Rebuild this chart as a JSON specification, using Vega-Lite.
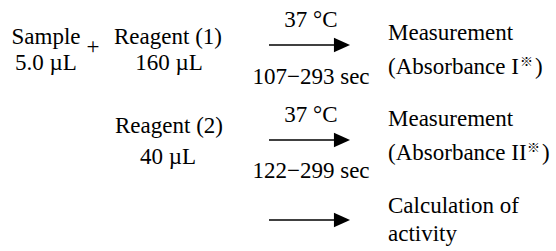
{
  "$schema": "https://vega.github.io/schema/vega-lite/v6.json",
  "width": 556,
  "height": 251,
  "autosize": {"type": "fit", "contains": "padding"},
  "padding": 0,
  "background": "white",
  "config": {"view": {"stroke": null}},
  "datasets": {
    "centered": [
      {"label": "Sample", "x": 46, "y": 44},
      {"label": "5.0 µL", "x": 46, "y": 70},
      {"label": "+", "x": 93, "y": 54},
      {"label": "Reagent (1)", "x": 168, "y": 44},
      {"label": "160 µL", "x": 169, "y": 70},
      {"label": "37 °C", "x": 311, "y": 27},
      {"label": "107−293 sec", "x": 311, "y": 84},
      {"label": "Reagent (2)", "x": 169, "y": 133},
      {"label": "40 µL", "x": 168, "y": 164},
      {"label": "37 °C", "x": 311, "y": 122},
      {"label": "122−299 sec", "x": 311, "y": 178}
    ],
    "lefttext": [
      {"label": "Measurement", "x": 388, "y": 40},
      {"label": "(Absorbance I", "x": 388, "y": 74},
      {"label": ")", "x": 535, "y": 74},
      {"label": "Measurement", "x": 388, "y": 126},
      {"label": "(Absorbance II", "x": 388, "y": 160},
      {"label": ")", "x": 542, "y": 160},
      {"label": "Calculation of", "x": 388, "y": 213},
      {"label": "activity", "x": 388, "y": 241}
    ],
    "marks": [
      {"label": "※", "x": 520, "y": 62},
      {"label": "※", "x": 527, "y": 148}
    ],
    "arrows": [
      {"step": "incubation 1", "x": 269, "xend": 340, "y": 45, "head": 342},
      {"step": "incubation 2", "x": 269, "xend": 340, "y": 140, "head": 342},
      {"step": "calculation", "x": 269, "xend": 340, "y": 220, "head": 342}
    ]
  },
  "layer": [
    {
      "data": {"name": "arrows"},
      "mark": {"type": "rule", "color": "black", "strokeWidth": 1.5},
      "encoding": {
        "x": {"field": "x", "type": "quantitative", "scale": {"domain": [0, 556], "nice": false, "zero": false}, "axis": null},
        "x2": {"field": "xend"},
        "y": {"field": "y", "type": "quantitative", "scale": {"domain": [0, 251], "nice": false, "zero": false, "reverse": true}, "axis": null}
      }
    },
    {
      "data": {"name": "arrows"},
      "mark": {"type": "point", "shape": "M-1,-0.9L1,0L-1,0.9Z", "filled": true, "color": "black", "size": 260, "opacity": 1},
      "encoding": {
        "x": {"field": "head", "type": "quantitative", "axis": null},
        "y": {"field": "y", "type": "quantitative", "axis": null}
      }
    },
    {
      "data": {"name": "centered"},
      "mark": {"type": "text", "align": "center", "baseline": "alphabetic", "font": "'Liberation Serif', serif", "fontSize": 23, "color": "black"},
      "encoding": {
        "x": {"field": "x", "type": "quantitative", "axis": null},
        "y": {"field": "y", "type": "quantitative", "axis": null},
        "text": {"field": "label"}
      }
    },
    {
      "data": {"name": "lefttext"},
      "mark": {"type": "text", "align": "left", "baseline": "alphabetic", "font": "'Liberation Serif', serif", "fontSize": 23, "color": "black"},
      "encoding": {
        "x": {"field": "x", "type": "quantitative", "axis": null},
        "y": {"field": "y", "type": "quantitative", "axis": null},
        "text": {"field": "label"}
      }
    },
    {
      "data": {"name": "marks"},
      "mark": {"type": "text", "align": "left", "baseline": "middle", "font": "Noto Sans CJK JP", "fontSize": 13, "color": "black"},
      "encoding": {
        "x": {"field": "x", "type": "quantitative", "axis": null},
        "y": {"field": "y", "type": "quantitative", "axis": null},
        "text": {"field": "label"}
      }
    }
  ]
}
